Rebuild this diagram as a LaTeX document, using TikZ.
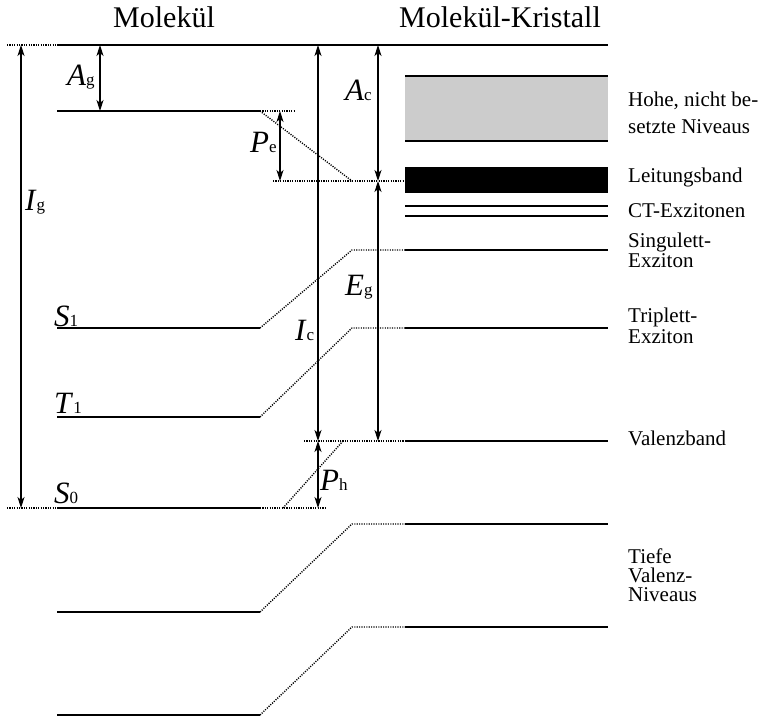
\documentclass[tikz,border=0pt]{standalone}
\usepackage{fontspec}
\setmainfont{Liberation Serif}
\usetikzlibrary{arrows.meta}
\begin{document}
\begin{tikzpicture}[x=1pt,y=-1pt,
  level/.style={line width=1.4pt},
  toplevel/.style={line width=1.9pt},
  dots/.style={line width=1.4pt,dash pattern=on 1.1pt off 1.3pt},
  dim/.style={line width=1.1pt,{Stealth[length=11pt,width=7pt,inset=3pt]}-{Stealth[length=11pt,width=7pt,inset=3pt]}},
  title/.style={font=\fontsize{30}{30}\selectfont,anchor=base,inner sep=0pt},
  lbl/.style={font=\fontsize{21}{21}\selectfont,anchor=base west,inner sep=0pt},
  mlbl/.style={align=left,anchor=north west,inner sep=0pt},
  sym/.style={anchor=base west,inner sep=0pt}
]
\useasboundingbox (0,0) rectangle (761,717);
\newcommand{\sy}[2]{{\fontsize{31}{31}\selectfont\textit{#1}}{\fontsize{17}{17}\selectfont #2}}

% titles
\node[title] (tmol) at (164,28) {Molekül};
\node[title] (tkri) at (500,28) {Molekül-Kristall};

% coordinates
\coordinate (vacL) at (7,45);
\coordinate (vacA) at (57,45);
\coordinate (vacB) at (608,45);
\coordinate (luA) at (57,111);
\coordinate (luB) at (260,111);
\coordinate (luC) at (295,111);
\coordinate (cbL) at (273,181);
\coordinate (cbK) at (352,181);
\coordinate (cbR) at (405,181);
\coordinate (s1A) at (57,328);
\coordinate (s1B) at (260,328);
\coordinate (seK) at (352,250);
\coordinate (seA) at (405,250);
\coordinate (seB) at (608,250);
\coordinate (t1A) at (57,417);
\coordinate (t1B) at (260,417);
\coordinate (teK) at (352,328);
\coordinate (teA) at (405,328);
\coordinate (teB) at (608,328);
\coordinate (vbL) at (304,441);
\coordinate (vbK) at (343,441);
\coordinate (vbA) at (405,441);
\coordinate (vbB) at (608,441);
\coordinate (s0L) at (7,508);
\coordinate (s0A) at (57,508);
\coordinate (s0B) at (260,508);
\coordinate (s0K) at (283,508);
\coordinate (s0R) at (327,508);
\coordinate (d1A) at (57,612);
\coordinate (d1B) at (260,612);
\coordinate (d1K) at (352,524);
\coordinate (d1C) at (405,524);
\coordinate (d1D) at (608,524);
\coordinate (d2A) at (57,715);
\coordinate (d2B) at (260,715);
\coordinate (d2K) at (352,627);
\coordinate (d2C) at (405,627);
\coordinate (d2D) at (608,627);

% bands
\fill[black!20] (405,76) rectangle (608,141);
\draw[level] (405,76) -- (608,76);
\draw[level] (405,141) -- (608,141);
\fill[black] (405,167) rectangle (608,193);
\draw[level] (405,206) -- (608,206);
\draw[level] (405,216) -- (608,216);

% levels
\draw[dots] (vacL) -- (vacA);
\draw[toplevel] (vacA) -- (vacB);
\draw[level] (luA) -- (luB);
\draw[dots] (luB) -- (luC);
\draw[dots] (luB) -- (cbK);
\draw[dots] (cbL) -- (cbR);
\draw[level] (s1A) -- (s1B);
\draw[dots] (s1B) -- (seK) -- (seA);
\draw[level] (seA) -- (seB);
\draw[level] (t1A) -- (t1B);
\draw[dots] (t1B) -- (teK) -- (teA);
\draw[level] (teA) -- (teB);
\draw[dots] (vbL) -- (vbA);
\draw[level] (vbA) -- (vbB);
\draw[dots] (s0K) -- (vbK);
\draw[dots] (s0L) -- (s0A);
\draw[level] (s0A) -- (s0B);
\draw[dots] (s0B) -- (s0R);
\draw[level] (d1A) -- (d1B);
\draw[dots] (d1B) -- (d1K) -- (d1C);
\draw[level] (d1C) -- (d1D);
\draw[level] (d2A) -- (d2B);
\draw[dots] (d2B) -- (d2K) -- (d2C);
\draw[level] (d2C) -- (d2D);

% dimension arrows
\coordinate (igT) at (21,45);  \coordinate (igB) at (21,508);
\coordinate (agT) at (100,45); \coordinate (agB) at (100,111);
\coordinate (peT) at (280,111); \coordinate (peB) at (280,181);
\coordinate (acT) at (378,45); \coordinate (acB) at (378,181);
\coordinate (egB) at (378,441);
\coordinate (icT) at (318,45); \coordinate (icB) at (318,441);
\coordinate (phB) at (318,508);
\draw[dim] (igT) -- (igB);
\draw[dim] (agT) -- (agB);
\draw[dim] (peT) -- (peB);
\draw[dim] (acT) -- (acB);
\draw[dim] (acB) -- (egB);
\draw[dim] (icT) -- (icB);
\draw[dim] (icB) -- (phB);

% symbols
\node[sym] (lIg) at (25,210) {\sy{I}{g}};
\node[sym] (lAg) at (67,85) {\sy{A}{g}};
\node[sym] (lAc) at (345,100) {\sy{A}{c}};
\node[sym] (lPe) at (250,153) {\sy{P}{e}};
\node[sym] (lEg) at (345,295) {\sy{E}{g}};
\node[sym] (lIc) at (295,340) {\sy{I}{c}};
\node[sym] (lPh) at (320,490) {\sy{P}{h}};
\node[sym] (lS1) at (54,326) {\sy{S}{1}};
\node[sym] (lT1) at (54,413) {\sy{T}{1}};
\node[sym] (lS0) at (54,503) {\sy{S}{0}};

% right labels
\node[mlbl,font=\fontsize{21}{27}\selectfont] (hohe) at (628,91.5) {Hohe, nicht be-\\setzte Niveaus};
\node[lbl] (lb) at (628,182) {Leitungsband};
\node[lbl] (ct) at (628,217) {CT-Exzitonen};
\node[mlbl,font=\fontsize{21}{20}\selectfont] (se) at (628,232.5) {Singulett-\\Exziton};
\node[mlbl,font=\fontsize{21}{21}\selectfont] (te) at (628,307.5) {Triplett-\\Exziton};
\node[lbl] (vb) at (628,445) {Valenzband};
\node[mlbl,font=\fontsize{21}{19}\selectfont] (tv) at (628,548.5) {Tiefe\\Valenz-\\Niveaus};
\end{tikzpicture}
\end{document}
